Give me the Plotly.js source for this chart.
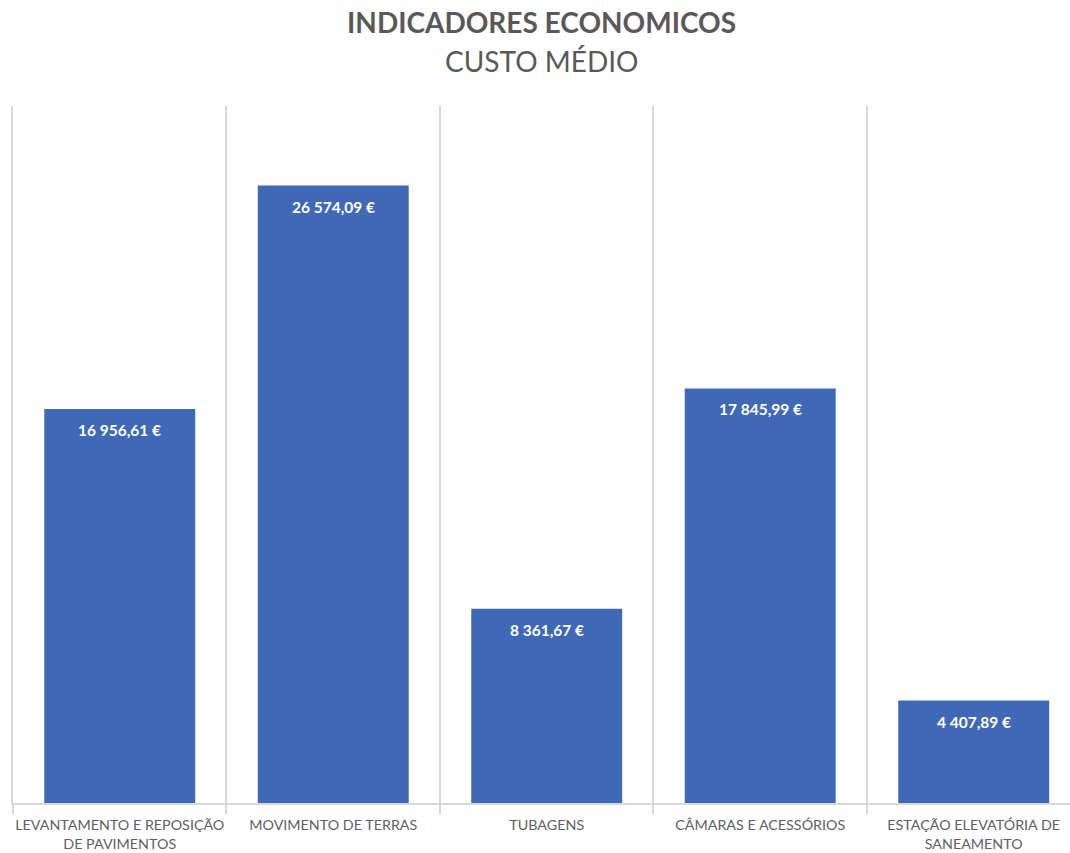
<!DOCTYPE html>
<html>
<head>
<meta charset="utf-8">
<script src="https://cdn.plot.ly/plotly-3.0.1.min.js"></script>
<style>html,body{margin:0;padding:0;background:#fff;}#chart{width:1070px;height:853px;}</style>
</head>
<body>
<div id="chart"></div>
<script>
const categories = [
  "LEVANTAMENTO E REPOSIÇÃO<br>DE PAVIMENTOS",
  "MOVIMENTO DE TERRAS",
  "TUBAGENS",
  "CÂMARAS E ACESSÓRIOS",
  "ESTAÇÃO ELEVATÓRIA DE<br>SANEAMENTO"
];
const custoMedio = [16956.61, 26574.09, 8361.67, 17845.99, 4407.89];
const titleText = "INDICADORES ECONOMICOS";
const subtitleText = "CUSTO MÉDIO";

function fmtEuro(v) {
  const parts = v.toFixed(2).split(".");
  const intPart = parts[0].replace(/\B(?=(\d{3})+(?!\d))/g, " ");
  return intPart + "," + parts[1] + " €";
}

const FONT = "Lato, sans-serif";

const trace = {
  type: "bar",
  x: categories,
  y: custoMedio,
  width: 0.707,
  marker: {color: "#3f69b6", line: {width: 0}},
  hoverinfo: "skip"
};

const annotations = custoMedio.map((v, i) => ({
  x: categories[i], y: v, xref: "x", yref: "y",
  text: "<b>" + fmtEuro(v) + "</b>",
  showarrow: false, yanchor: "middle", yshift: -21,
  font: {family: FONT, size: 15.5, color: "#ffffff"}
}));

annotations.push({
  xref: "paper", yref: "paper", x: 0.5, y: 1 + (106 - 22) / 697,
  text: "<b>" + titleText + "</b>", showarrow: false,
  xanchor: "center", yanchor: "middle",
  font: {family: FONT, size: 28, color: "#595959"}
});
annotations.push({
  xref: "paper", yref: "paper", x: 0.5, y: 1 + (106 - 61) / 697,
  text: subtitleText, showarrow: false,
  xanchor: "center", yanchor: "middle",
  font: {family: FONT, size: 28, color: "#595959"}
});

const layout = {
  width: 1070, height: 853,
  margin: {l: 13, r: 0, t: 106, b: 50},
  paper_bgcolor: "#ffffff", plot_bgcolor: "#ffffff",
  showlegend: false,
  xaxis: {
    type: "category",
    range: [-0.5, 4.451],
    tickson: "boundaries",
    tickangle: 0,
    showgrid: true, gridcolor: "#d9d9d9", gridwidth: 2,
    ticks: "outside", ticklen: 9, tickcolor: "#d9d9d9", tickwidth: 2,
    ticklabelstandoff: 8,
    showline: true, linecolor: "#d9d9d9", linewidth: 2,
    tickfont: {family: FONT, size: 14.3, color: "#606060"},
    fixedrange: true
  },
  yaxis: {
    range: [0, 30000],
    showgrid: false, zeroline: false, showticklabels: false,
    showline: true, linecolor: "#d9d9d9", linewidth: 2,
    fixedrange: true
  },
  annotations: annotations
};

Plotly.newPlot("chart", [trace], layout, {displayModeBar: false, staticPlot: true});
</script>
</body>
</html>
